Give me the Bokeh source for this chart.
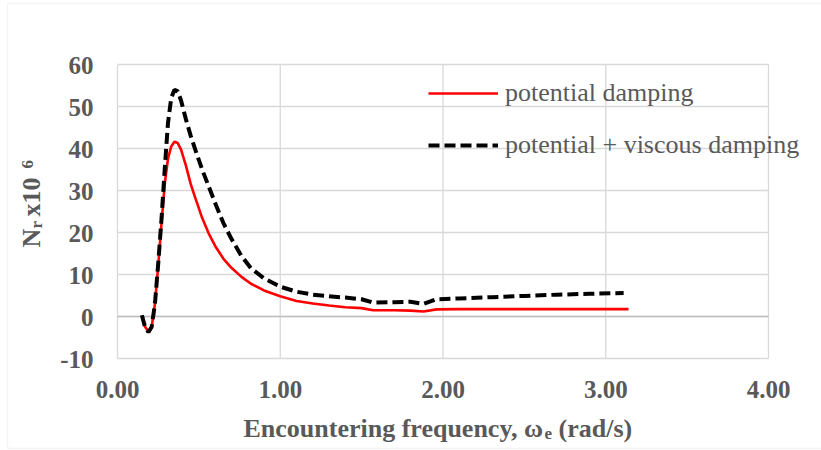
import math
from bokeh.plotting import figure
from bokeh.models import Legend, LegendItem, Label, BoxAnnotation, Range1d
from bokeh.core.properties import value
from bokeh.embed import file_html
from bokeh.resources import INLINE

# ---------------- data ----------------
omega_pot = [0.15, 0.17, 0.19, 0.21, 0.23, 0.25, 0.27, 0.29, 0.31, 0.33, 0.35, 0.37, 0.39,
             0.42, 0.45, 0.48, 0.52, 0.56, 0.60, 0.65, 0.70, 0.76, 0.82, 0.90, 1.00, 1.10,
             1.20, 1.30, 1.40, 1.50, 1.57, 1.70, 1.80, 1.88, 1.96, 2.10, 2.40, 2.70, 3.00, 3.14]
nr_pot = [0.2, -2.5, -3.6, -2.4, 3.0, 12.0, 22.0, 31.5, 37.5, 40.5, 41.6, 41.3, 39.8,
          36.0, 31.5, 28.0, 23.5, 19.8, 16.8, 13.8, 11.6, 9.5, 7.8, 6.2, 4.8, 3.7,
          3.1, 2.6, 2.2, 2.0, 1.5, 1.5, 1.4, 1.2, 1.7, 1.75, 1.75, 1.75, 1.75, 1.75]

omega_visc = [0.15, 0.17, 0.19, 0.21, 0.23, 0.25, 0.27, 0.29, 0.31, 0.33, 0.35, 0.37, 0.39,
              0.42, 0.45, 0.48, 0.52, 0.56, 0.60, 0.65, 0.70, 0.76, 0.82, 0.90, 1.00, 1.10,
              1.20, 1.30, 1.40, 1.50, 1.57, 1.70, 1.80, 1.88, 1.96, 2.10, 2.30, 2.50, 2.70,
              2.90, 3.11]
nr_visc = [0.3, -2.6, -3.7, -2.5, 3.0, 12.5, 23.0, 35.0, 46.0, 52.0, 54.0, 53.6, 51.5,
           47.0, 43.0, 39.5, 35.0, 31.0, 27.0, 22.3, 18.5, 14.5, 11.5, 9.1, 7.1, 5.9,
           5.2, 4.8, 4.5, 4.1, 3.3, 3.4, 3.5, 3.0, 4.1, 4.3, 4.6, 4.9, 5.2, 5.4, 5.6]

series_names = ["potential damping", "potential + viscous damping"]

x_ticks = [0, 1, 2, 3, 4]
x_tick_labels = ["0.00", "1.00", "2.00", "3.00", "4.00"]
y_ticks = [-10, 0, 10, 20, 30, 40, 50, 60]
y_tick_labels = ["-10", "0", "10", "20", "30", "40", "50", "60"]

# ---------------- layout (pixels) ----------------
W, H = 821, 450
PL, PR, PT, PB = 117, 768, 64, 358          # plot-area edges in the page
FONT = "Liberation Serif"
TXT = "#595959"
GRID = "#d9d9d9"

x_lo, x_hi = x_ticks[0], x_ticks[-1]
y_lo, y_hi = y_ticks[0], y_ticks[-1]
sx = (PR - PL) / (x_hi - x_lo)
sy = (PB - PT) / (y_hi - y_lo)

# the frame fills the whole page; ranges are set so the plot area sits at PL..PR, PT..PB
p = figure(width=W, height=H, output_backend="svg", toolbar_location=None,
           x_range=Range1d(x_lo - PL / sx, x_hi + (W - PR) / sx),
           y_range=Range1d(y_lo - (H - PB) / sy, y_hi + PT / sy),
           x_axis_location=None, y_axis_location=None,
           min_border=0, min_border_left=0, min_border_right=0,
           min_border_top=0, min_border_bottom=0)
p.background_fill_color = "white"
p.border_fill_color = "white"
p.outline_line_color = None
p.grid.visible = False

# outer chart border
p.add_layout(BoxAnnotation(left=7, right=W + 10, top=H - 3, bottom=H - 448,
                           left_units="screen", right_units="screen",
                           top_units="screen", bottom_units="screen",
                           fill_alpha=0, line_color=GRID, line_width=1.3, level="underlay"))

# gridlines (from tick arrays)
p.segment(x0=x_ticks, y0=[y_lo] * len(x_ticks), x1=x_ticks, y1=[y_hi] * len(x_ticks),
          line_color=GRID, line_width=1.3)
p.segment(x0=[x_lo] * len(y_ticks), y0=y_ticks, x1=[x_hi] * len(y_ticks), y1=y_ticks,
          line_color=GRID, line_width=1.3)
# horizontal axis line at zero
p.segment(x0=[x_lo], y0=[y_ticks[1]], x1=[x_hi], y1=[y_ticks[1]],
          line_color="#bfbfbf", line_width=1.5)

# tick labels
p.text(x=x_ticks, y=[y_lo] * len(x_ticks), text=x_tick_labels, y_offset=31,
       text_align="center", text_baseline="alphabetic",
       text_font=value(FONT), text_font_style="bold", text_font_size="25px",
       text_color=TXT)
p.text(x=[x_lo] * len(y_ticks), y=y_ticks, text=y_tick_labels, x_offset=-24, y_offset=1,
       text_align="right", text_baseline="alphabetic",
       text_font=value(FONT), text_font_style="bold", text_font_size="25px",
       text_color=TXT)

# data curves
r_pot = p.line(omega_pot, nr_pot, line_color="#ff0000", line_width=2.6)
r_visc = p.line(omega_visc, nr_visc, line_color="black", line_width=4, line_dash="11 5")

legend = Legend(items=[LegendItem(label=series_names[0], renderers=[r_pot]),
                       LegendItem(label=series_names[1], renderers=[r_visc])],
                location=(428, H - 160), orientation="vertical",
                glyph_width=70, glyph_height=30, label_height=30, label_standoff=7,
                spacing=22, padding=0, margin=0,
                background_fill_alpha=0, border_line_alpha=0,
                label_text_font=FONT, label_text_font_size="26px", label_text_color=TXT)
p.add_layout(legend, "center")

# ---------------- axis titles ----------------
def lab(text, x, y, size, angle=0.0):
    p.add_layout(Label(text=text, x=x, y=H - y, x_units="screen", y_units="screen",
                       angle=angle, text_align="left", text_baseline="alphabetic",
                       text_font=FONT, text_font_style="bold", text_font_size=size,
                       text_color=TXT))

# x title: Encountering frequency, ω_e (rad/s)
lab("Encountering frequency, \u03c9", 243, 428, "26px")
lab("e", 544, 433, "17px")
lab("(rad/s)", 558, 428, "26px")

# y title: N_r x10^6, rotated
up = math.pi / 2
lab("N", 31, 247, "26px", up)
lab("r", 36, 228, "17px", up)
lab("x10", 31, 216, "26px", up)
lab("6", 27, 168, "17px", up)

open("out.html", "w").write(file_html(p, INLINE))
